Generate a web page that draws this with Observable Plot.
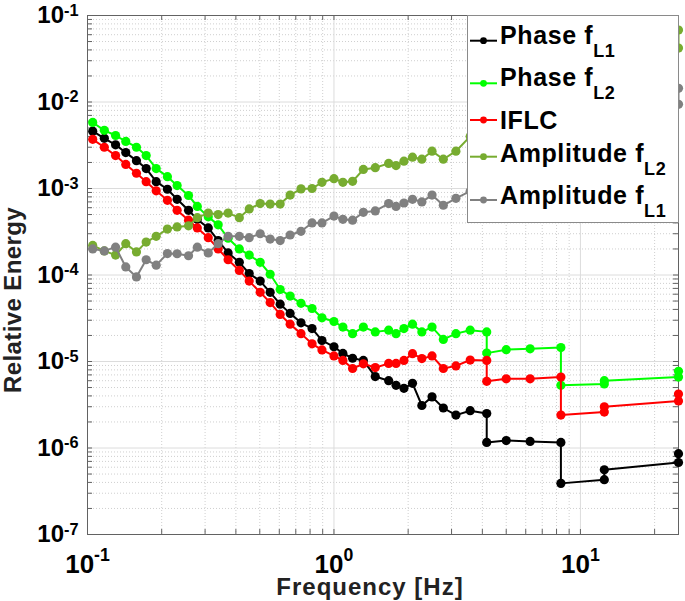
<!DOCTYPE html>
<html><head><meta charset="utf-8">
<script src="https://cdn.jsdelivr.net/npm/d3@7"></script>
<script src="https://cdn.jsdelivr.net/npm/@observablehq/plot@0.6"></script>
<style>
html,body{margin:0;padding:0;background:#fff;}
#chart{position:relative;width:685px;height:601px;overflow:hidden;}
</style></head><body><div id="chart"></div>
<script>
// Frequencies (Hz) shared by every series
const freq = [0.105, 0.117, 0.130, 0.143, 0.158, 0.173, 0.190, 0.211, 0.231, 0.257, 0.279, 0.309,
  0.339, 0.372, 0.413, 0.453, 0.502, 0.551, 0.605, 0.664, 0.735, 0.815, 0.894, 1.0,
  1.087, 1.190, 1.316, 1.471, 1.667, 1.786, 1.923, 2.083, 2.273, 2.5, 2.778, 3.125, 3.571, 4.167,
  4.167, 5.0, 6.25, 8.333, 8.333, 12.5, 12.5, 25, 25];

const phaseL1 = [4.6e-3, 3.8e-3, 3.2e-3, 2.6e-3, 2.1e-3, 1.7e-3, 1.2e-3, 9.8e-4, 7.5e-4, 5.6e-4, 4.4e-4, 3.5e-4,
  2.5e-4, 1.8e-4, 1.4e-4, 1.04e-4, 8.5e-5, 6.3e-5, 4.6e-5, 3.6e-5, 2.8e-5, 2.4e-5, 1.75e-5, 1.48e-5,
  1.24e-5, 1.09e-5, 1.03e-5, 6.7e-6, 6.0e-6, 5.3e-6, 4.9e-6, 5.6e-6, 3.1e-6, 3.9e-6, 2.9e-6, 2.4e-6, 2.7e-6, 2.5e-6,
  1.16e-6, 1.22e-6, 1.19e-6, 1.16e-6, 3.9e-7, 4.3e-7, 5.6e-7, 6.8e-7, 8.6e-7];

const phaseL2 = [5.8e-3, 4.7e-3, 4.1e-3, 3.5e-3, 3.0e-3, 2.4e-3, 1.7e-3, 1.37e-3, 1.08e-3, 8.3e-4, 6.2e-4, 4.7e-4,
  3.8e-4, 2.66e-4, 2.0e-4, 1.7e-4, 1.4e-4, 1.02e-4, 6.8e-5, 5.7e-5, 4.7e-5, 4.1e-5, 3.2e-5, 2.9e-5,
  2.5e-5, 2.1e-5, 2.5e-5, 2.2e-5, 2.3e-5, 2.1e-5, 2.4e-5, 2.7e-5, 2.2e-5, 2.5e-5, 1.8e-5, 2.1e-5, 2.3e-5, 2.2e-5,
  1.25e-5, 1.37e-5, 1.4e-5, 1.45e-5, 5.3e-6, 5.5e-6, 6.0e-6, 6.6e-6, 7.7e-6];

const iflc = [3.7e-3, 3.0e-3, 2.4e-3, 1.9e-3, 1.5e-3, 1.2e-3, 9.4e-4, 7.3e-4, 5.6e-4, 4.3e-4, 3.5e-4, 2.7e-4,
  2.0e-4, 1.5e-4, 1.13e-4, 8.5e-5, 6.3e-5, 4.8e-5, 3.5e-5, 2.7e-5, 2.1e-5, 1.6e-5, 1.36e-5, 1.16e-5,
  1.03e-5, 8.3e-6, 9.4e-6, 8.5e-6, 9.5e-6, 9.5e-6, 1.03e-5, 1.23e-5, 1.08e-5, 1.16e-5, 8.3e-6, 8.9e-6, 1.04e-5, 1.03e-5,
  5.9e-6, 6.3e-6, 6.3e-6, 6.6e-6, 2.4e-6, 2.6e-6, 3.0e-6, 3.5e-6, 4.2e-6];

const ampL2 = [2.2e-4, 1.9e-4, 1.7e-4, 2.3e-4, 1.85e-4, 2.4e-4, 2.8e-4, 3.4e-4, 3.6e-4, 3.7e-4, 4.6e-4, 5.2e-4,
  5.0e-4, 5.2e-4, 4.6e-4, 5.8e-4, 6.7e-4, 6.6e-4, 6.6e-4, 8.4e-4, 9.9e-4, 1.0e-3, 1.18e-3, 1.3e-3,
  1.18e-3, 1.21e-3, 1.66e-3, 1.74e-3, 1.95e-3, 1.84e-3, 2.07e-3, 2.3e-3, 2.18e-3, 2.7e-3, 2.18e-3, 2.7e-3, 4.0e-3, 4.8e-3,
  6.0e-3, 8.0e-3, 1.1e-2, 1.5e-2, 2.0e-2, 2.5e-2, 3.0e-2, 4.2e-2, 6.8e-2];

const ampL1 = [2.0e-4, 1.9e-4, 2.1e-4, 1.24e-4, 9.5e-5, 1.5e-4, 1.3e-4, 1.77e-4, 1.76e-4, 1.67e-4, 2.1e-4, 1.8e-4,
  2.3e-4, 2.8e-4, 2.8e-4, 2.7e-4, 3.0e-4, 2.6e-4, 2.5e-4, 2.9e-4, 3.2e-4, 4.0e-4, 4.0e-4, 4.8e-4,
  4.4e-4, 4.3e-4, 5.3e-4, 5.5e-4, 6.7e-4, 6.2e-4, 6.8e-4, 7.5e-4, 7.0e-4, 8.4e-4, 6.4e-4, 7.7e-4, 9.3e-4, 1.0e-3,
  1.2e-3, 1.4e-3, 1.8e-3, 2.2e-3, 2.8e-3, 3.5e-3, 4.5e-3, 9.4e-3, 1.44e-2];

const seriesNames = ["Phase fL1", "Phase fL2", "IFLC", "Amplitude fL2", "Amplitude fL1"];
const seriesColors = ["#000000", "#00ff00", "#ff0000", "#77ac30", "#808080"];
const legendMain = ["Phase f", "Phase f", "IFLC", "Amplitude f", "Amplitude f"];
const legendSub = ["L1", "L2", "", "L2", "L1"];

const xMajorTicks = [0.1, 1, 10];
const xTickLabels = ["10^-1", "10^0", "10^1"];
const xMinorTicks = [0.2, 0.3, 0.4, 0.5, 0.6, 0.7, 0.8, 0.9, 2, 3, 4, 5, 6, 7, 8, 9, 20];
const yMajorTicks = [1e-7, 1e-6, 1e-5, 1e-4, 1e-3, 1e-2, 1e-1];
const yTickLabels = ["10^-7", "10^-6", "10^-5", "10^-4", "10^-3", "10^-2", "10^-1"];
const yMinorTicks = [2e-7,3e-7,4e-7,5e-7,6e-7,7e-7,8e-7,9e-7, 2e-6,3e-6,4e-6,5e-6,6e-6,7e-6,8e-6,9e-6,
  2e-5,3e-5,4e-5,5e-5,6e-5,7e-5,8e-5,9e-5, 2e-4,3e-4,4e-4,5e-4,6e-4,7e-4,8e-4,9e-4,
  2e-3,3e-3,4e-3,5e-3,6e-3,7e-3,8e-3,9e-3, 2e-2,3e-2,4e-2,5e-2,6e-2,7e-2,8e-2,9e-2];

const seriesValues = [phaseL1, phaseL2, iflc, ampL2, ampL1];
const rows = seriesValues.map((vals, s) => vals.map((v, i) => ({f: freq[i], v, s})));

const W = 685, H = 601, mL = 87, mR = 7, mT = 15, mB = 67;
const plotW = W - mL - mR, plotH = H - mT - mB;
const font = "'Liberation Sans', Arial, Helvetica, sans-serif";
const axisColor = "#626262";
const allX = xMajorTicks.concat(xMinorTicks);
const allY = yMajorTicks.concat(yMinorTicks);

const marks = [
  Plot.gridX(xMinorTicks, {stroke: "#cfcfcf", strokeOpacity: 1, strokeDasharray: "1,2"}),
  Plot.gridY(yMinorTicks, {stroke: "#cfcfcf", strokeOpacity: 1, strokeDasharray: "1,2"}),
  Plot.gridX(xMajorTicks, {stroke: "#dcdcdc", strokeOpacity: 1}),
  Plot.gridY(yMajorTicks, {stroke: "#dcdcdc", strokeOpacity: 1}),
  Plot.tickX(allX, {x: d => d, insetTop: plotH - 5, stroke: axisColor}),
  Plot.tickX(allX, {x: d => d, insetBottom: plotH - 5, stroke: axisColor}),
  Plot.tickY(allY, {y: d => d, insetRight: plotW - 5, stroke: axisColor}),
  Plot.tickY(allY, {y: d => d, insetLeft: plotW - 5, stroke: axisColor}),
  Plot.frame({stroke: axisColor, strokeWidth: 1}),
];
rows.forEach((r, s) => {
  marks.push(Plot.line(r, {x: "f", y: "v", stroke: seriesColors[s], strokeWidth: 2}));
  marks.push(Plot.dot(r, {x: "f", y: "v", r: 4.6, fill: seriesColors[s], stroke: "none"}));
});
marks.push(
  Plot.axisY(yMajorTicks, {tickSize: 0, tickPadding: 9, fontSize: 24, fontWeight: "bold", fill: "#000",
    tickFormat: d => yTickLabels[yMajorTicks.indexOf(d)], label: null}),
  Plot.axisX(xMajorTicks, {tickSize: 0, tickPadding: 20, fontSize: 26, fontWeight: "bold", fill: "#000",
    tickFormat: d => xTickLabels[xMajorTicks.indexOf(d)], label: null}),
  Plot.text(["Relative Energy"], {frameAnchor: "left", textAnchor: "middle", lineAnchor: "middle",
    dx: -74.5, dy: 25, rotate: -90, fontSize: 24, fontWeight: "bold", fill: "#222", text: d => d}),
  Plot.text(["Frequency [Hz]"], {frameAnchor: "bottom", textAnchor: "middle", lineAnchor: "middle",
    dx: -13, dy: 53, fontSize: 24, fontWeight: "bold", fill: "#222", text: d => d})
);

const svgNode = Plot.plot({
  width: W, height: H, marginLeft: mL, marginRight: mR, marginTop: mT, marginBottom: mB,
  style: {fontFamily: font, background: "#fff", overflow: "visible"},
  x: {type: "log", domain: [0.1, 25]},
  y: {type: "log", domain: [1e-7, 1e-1]},
  marks
});
document.getElementById("chart").appendChild(svgNode);

const svg = d3.select(svgNode);
// superscripts in tick labels
svg.selectAll("text").each(function() {
  const t = d3.select(this);
  const m = /^10\^(-?\d+)$/.exec(t.text());
  if (m) {
    const g = this.closest("g[aria-label]");
    const isX = g && /x-axis/.test(g.getAttribute("aria-label"));
    t.text("10");
    t.append("tspan").attr("font-size", "0.68em").attr("dy", isX ? "-0.7em" : "-0.45em").text(m[1]);
  }
});
// letter spacing on the axis titles (the original text is wide)
svg.selectAll("text").filter(function() { return /Relative/.test(this.textContent); })
  .attr("letter-spacing", "0.4px");
svg.selectAll("text").filter(function() { return /Frequency/.test(this.textContent); })
  .attr("letter-spacing", "1px");

// legend (drawn over the data, like the original)
const lg = svg.append("g").attr("font-family", font).attr("font-weight", "bold").attr("text-anchor", "start");
lg.append("rect").attr("x", 467.5).attr("y", 15.5).attr("width", 211).attr("height", 207)
  .attr("fill", "#fff").attr("stroke", "#8a8a8a").attr("stroke-width", 1);
const rowY = [40.7, 83.3, 120, 156.7, 200];
const baseY = [43.5, 86, 129.3, 161.7, 203.5];
seriesNames.forEach((name, i) => {
  lg.append("line").attr("x1", 470).attr("x2", 497).attr("y1", rowY[i]).attr("y2", rowY[i])
    .attr("stroke", seriesColors[i]).attr("stroke-width", 2);
  lg.append("circle").attr("cx", 483.5).attr("cy", rowY[i]).attr("r", 3.4).attr("fill", seriesColors[i]);
  const t = lg.append("text").attr("x", 500).attr("y", baseY[i]).attr("font-size", 25)
    .attr("letter-spacing", "0.6px").attr("fill", "#000").attr("text-anchor", "start")
    .text(legendMain[i]);
  if (legendSub[i]) t.append("tspan").attr("font-size", 18).attr("dy", 13).text(legendSub[i]);
});
</script></body></html>
